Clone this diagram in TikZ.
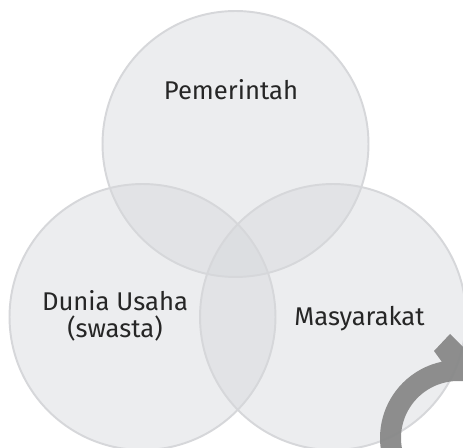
\documentclass[tikz,border=0pt]{standalone}
\usepackage{fontspec}
\setmainfont{Fira Sans}
\usepackage{tikz}
\usetikzlibrary{positioning, calc}
\definecolor{setfill}{RGB}{214,216,220}
\definecolor{setline}{RGB}{214,215,218}
\definecolor{labeltext}{RGB}{38,38,38}
\definecolor{arrowgray}{RGB}{136,136,136}
\tikzset{
		set circle/.style={
			circle,
			draw=setline,
			line width=1.1pt,
			fill=setfill,
			fill opacity=0.44,
			minimum size=5.32cm,
			inner sep=0pt,
			outer sep=0pt
		},
		set label/.style={
			text=labeltext,
			font=\fontsize{14.6}{15.9}\selectfont,
			align=center,
			inner sep=0pt
		}
	}
\begin{document}
\begin{tikzpicture}[x=0.02cm, y=-0.02cm]
		\useasboundingbox (0,0) rectangle (463,448);
		\clip (0,0) rectangle (463,448);
		\fill[white] (0,0) rectangle (463,448);
		%circles:
		\node[set circle] (gov) at (235.5,144) {};
		\node[set circle] (biz) at (142.5,317) {};
		\node[set circle] (soc) at (333,317) {};
		%labels:
		\node[set label, anchor=base] (govlabel) at (231,100) {Pemerintah};
		\node[set label, anchor=base] (bizlabel) at (115,338) {Dunia Usaha\\(swasta)};
		\node[set label, anchor=base] (soclabel) at (359.5,326) {Masyarakat};
		%arrow:
		\coordinate (turn) at (458,438);
		\fill[arrowgray, opacity=0.95] ($(turn)+(165:78)$) arc[start angle=165, end angle=258, radius=78]
			-- (434,351) -- (450,334) -- (482,366) -- ($(turn)+(280:57)$)
			arc[start angle=280, end angle=168, radius=57] -- cycle;
	\end{tikzpicture}
\end{document}
